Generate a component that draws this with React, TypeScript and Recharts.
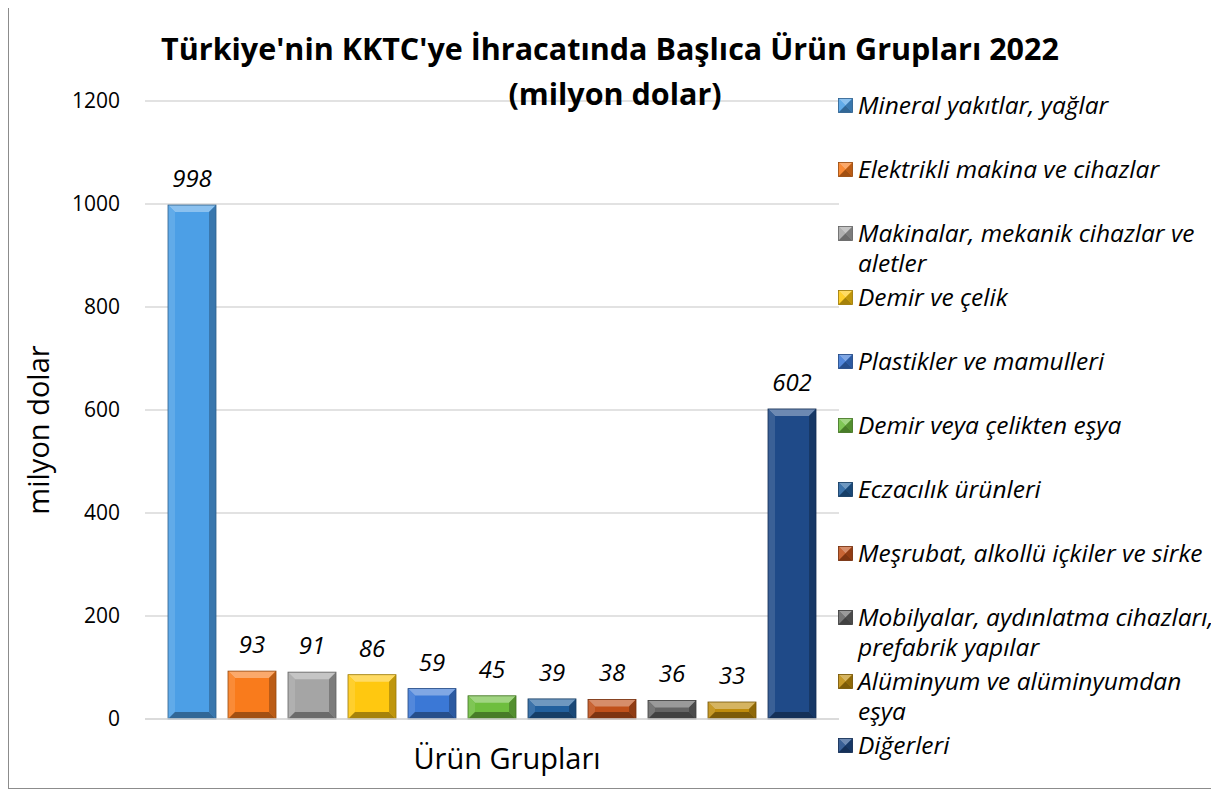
import React from "react";
import { BarChart, Bar, XAxis, YAxis, CartesianGrid, LabelList } from "recharts";

// categories, one bar series each
const GROUPS = [
  "Mineral yakıtlar, yağlar",
  "Elektrikli makina ve cihazlar",
  "Makinalar, mekanik cihazlar ve aletler",
  "Demir ve çelik",
  "Plastikler ve mamulleri",
  "Demir veya çelikten eşya",
  "Eczacılık ürünleri",
  "Meşrubat, alkollü içkiler ve sirke",
  "Mobilyalar, aydınlatma cihazları, prefabrik yapılar",
  "Alüminyum ve alüminyumdan eşya",
  "Diğerleri",
];
// legend text as it wraps in the original
const LEGEND_LINES = [
  ["Mineral yakıtlar, yağlar"],
  ["Elektrikli makina ve cihazlar"],
  ["Makinalar, mekanik cihazlar ve", "aletler"],
  ["Demir ve çelik"],
  ["Plastikler ve mamulleri"],
  ["Demir veya çelikten eşya"],
  ["Eczacılık ürünleri"],
  ["Meşrubat, alkollü içkiler ve sirke"],
  ["Mobilyalar, aydınlatma cihazları,", "prefabrik yapılar"],
  ["Alüminyum ve alüminyumdan", "eşya"],
  ["Diğerleri"],
];
const VALUES = [998, 93, 91, 86, 59, 45, 39, 38, 36, 33, 602];
const COLORS = [
  "#4C9FE6", "#F97B1C", "#A5A5A5", "#FFC810", "#3B78D6", "#6EBE3E",
  "#22609E", "#C0501A", "#646464", "#BF8C0C", "#1F4A88",
];
const Y_TICKS = [0, 200, 400, 600, 800, 1000, 1200];
const CATEGORY = "Ürün Grupları";
const Y_TITLE = "milyon dolar";

const FONT = "'Open Sans', sans-serif";

const row: Record<string, string | number> = { name: CATEGORY };
GROUPS.forEach((g, i) => (row[`s${i}`] = VALUES[i]));
const data = [row];

function shade(hex: string, amt: number) {
  const n = parseInt(hex.slice(1), 16);
  let r = (n >> 16) & 255, g = (n >> 8) & 255, b = n & 255;
  const f = (c: number) =>
    Math.round(amt >= 0 ? c + (255 - c) * amt : c * (1 + amt));
  r = f(r); g = f(g); b = f(b);
  return `rgb(${r},${g},${b})`;
}

// Excel-like bevelled bar
const BevelBar = (props: any) => {
  const { x, y, width: w, height: h, fill } = props;
  if (!h || h <= 0) return null;
  const b = Math.min(7, h / 2, w / 2);
  return (
    <g>
      <rect x={x} y={y} width={w} height={h} fill={fill} />
      <polygon points={`${x},${y} ${x + w},${y} ${x + w - b},${y + b} ${x + b},${y + b}`} fill={shade(fill, 0.35)} />
      <polygon points={`${x},${y} ${x + b},${y + b} ${x + b},${y + h - b} ${x},${y + h}`} fill={shade(fill, 0.12)} />
      <polygon points={`${x + w},${y} ${x + w - b},${y + b} ${x + w - b},${y + h - b} ${x + w},${y + h}`} fill={shade(fill, -0.25)} />
      <polygon points={`${x},${y + h} ${x + b},${y + h - b} ${x + w - b},${y + h - b} ${x + w},${y + h}`} fill={shade(fill, -0.35)} />
      <rect x={x} y={y} width={w} height={h} fill="none" stroke={shade(fill, -0.4)} strokeWidth={0.8} />
    </g>
  );
};

const LegendMarker = ({ color }: { color: string }) => (
  <svg width={15} height={15} style={{ flexShrink: 0, marginTop: 8 }}>
    <BevelBar x={0.5} y={0.5} width={14} height={14} fill={color} />
  </svg>
);

const ChartLegend = () => (
  <div
    style={{
      position: "absolute",
      left: 829,
      top: 86,
      fontFamily: FONT,
      fontStyle: "italic",
      fontSize: 24.5,
      color: "#000",
      zIndex: 2,
    }}
  >
    {LEGEND_LINES.map((lines, i) => (
      <div key={GROUPS[i]} style={{ display: "flex", gap: 5, height: 64, lineHeight: "30px" }}>
        <LegendMarker color={COLORS[i]} />
        <div style={{ whiteSpace: "nowrap" }}>
          {lines.map((l) => (
            <div key={l}>{l}</div>
          ))}
        </div>
      </div>
    ))}
  </div>
);

const YTitle = (props: any) => {
  const { viewBox } = props;
  const cx = 28;
  const cy = viewBox.y + viewBox.height / 2 + 20;
  return (
    <text
      x={cx}
      y={cy}
      transform={`rotate(-90, ${cx}, ${cy})`}
      textAnchor="middle"
      dominantBaseline="central"
      style={{ fontFamily: FONT, fontSize: 29, fill: "#000" }}
    >
      {Y_TITLE}
    </text>
  );
};

export default function App() {
  return (
    <div
      style={{
        position: "relative",
        width: 1204,
        height: 786,
        marginTop: -5,
        border: "1px solid #8c8c8c",
        background: "#fff",
        boxSizing: "border-box",
        fontFamily: FONT,
      }}
    >
      <div
        style={{
          position: "absolute",
          left: 0,
          right: 0,
          top: 22,
          textAlign: "center",
          fontWeight: 700,
          fontSize: 30.5,
          lineHeight: "45px",
          color: "#000",
          zIndex: 1,
          pointerEvents: "none",
        }}
      >
        <div>Türkiye'nin KKTC'ye İhracatında Başlıca Ürün Grupları 2022</div>
        <div style={{ paddingLeft: 10 }}>(milyon dolar)</div>
      </div>
      <ChartLegend />
      <BarChart
        width={1202}
        height={784}
        data={data}
        margin={{ top: 97, right: 372, bottom: 0, left: 0 }}
        barGap={12}
      >
        <CartesianGrid vertical={false} stroke="#d9d9d9" strokeWidth={1.5} />
        <XAxis
          dataKey="name"
          tick={false}
          axisLine={{ stroke: "#d9d9d9", strokeWidth: 1.5 }}
          tickLine={false}
          height={69}
          label={{
            value: CATEGORY,
            position: "insideTop",
            offset: 29,
            dx: 15,
            style: { fontFamily: FONT, fontSize: 29, fill: "#000" },
          }}
        />
        <YAxis
          domain={[0, 1200]}
          ticks={Y_TICKS}
          axisLine={false}
          tickLine={false}
          width={136}
          tickMargin={19}
          tick={{ fontFamily: FONT, fontSize: 21, fill: "#000" }}
          label={<YTitle />}
        />
        {GROUPS.map((g, i) => (
          <Bar
            key={g}
            dataKey={`s${i}`}
            name={g}
            fill={COLORS[i]}
            barSize={48}
            shape={BevelBar}
            isAnimationActive={false}
          >
            <LabelList
              dataKey={`s${i}`}
              position="top"
              offset={18}
              style={{ fontFamily: FONT, fontStyle: "italic", fontSize: 24, fill: "#000" }}
            />
          </Bar>
        ))}
      </BarChart>
    </div>
  );
}
